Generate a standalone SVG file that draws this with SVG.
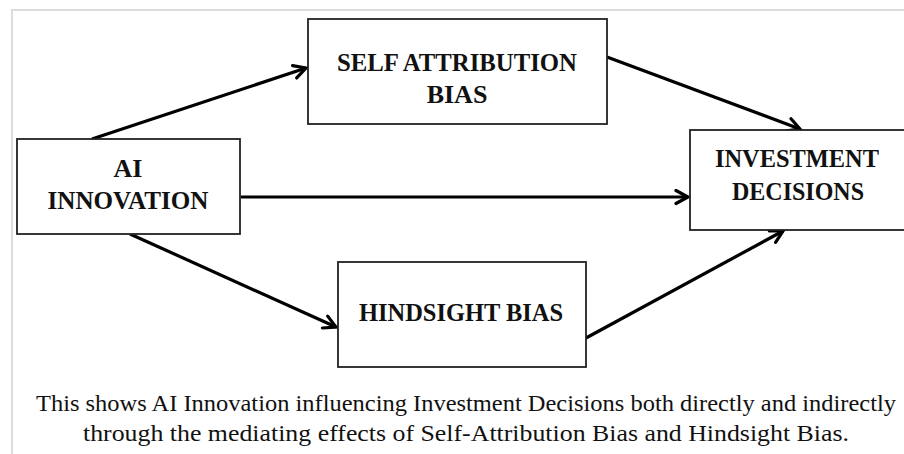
<svg xmlns="http://www.w3.org/2000/svg" width="904" height="454" viewBox="0 0 904 454">
<style>
.box{fill:#fff;stroke:#222;stroke-width:1.8}
text{font-family:'Liberation Serif','Times New Roman',Times,serif;fill:#111;text-anchor:middle}
.lbl{font-weight:bold;font-size:26px}
.cap{font-size:23px}
.arr{stroke:#000;stroke-width:3.2;fill:none;marker-end:url(#ah)}
</style>
<defs>
<marker id="ah" markerUnits="userSpaceOnUse" markerWidth="18" markerHeight="18" refX="14" refY="8" orient="auto">
<path d="M2,1.5 L14,8 L2,14.5" fill="none" stroke="#000" stroke-width="3.2" stroke-linecap="round" stroke-linejoin="miter"/>
</marker>
</defs>
<rect width="904" height="454" fill="#fff"/>
<path d="M12,454 V10 H904" fill="none" stroke="#dcdcdc" stroke-width="2"/>
<g id="connectors">
<line class="arr" x1="92" y1="139" x2="306" y2="68"/>
<line class="arr" x1="607" y1="57" x2="800" y2="129"/>
<line class="arr" x1="241" y1="197" x2="688" y2="197"/>
<line class="arr" x1="130" y1="234" x2="336" y2="327"/>
<line class="arr" x1="586" y1="338" x2="783" y2="231"/>
</g>
<g id="ai-innovation">
<rect class="box" x="17" y="139" width="223" height="95"/>
<text class="lbl" x="128" y="177" font-family="Liberation Serif">AI</text>
<text class="lbl" x="128" y="209" font-family="Liberation Serif" textLength="161" lengthAdjust="spacingAndGlyphs">INNOVATION</text>
</g>
<g id="self-attribution-bias">
<rect class="box" x="308" y="19" width="299" height="105"/>
<text class="lbl" x="457" y="71" textLength="240" lengthAdjust="spacingAndGlyphs">SELF ATTRIBUTION</text>
<text class="lbl" x="457" y="103">BIAS</text>
</g>
<g id="investment-decisions">
<rect class="box" x="690" y="130" width="220" height="100"/>
<text class="lbl" x="797" y="167" textLength="164" lengthAdjust="spacingAndGlyphs">INVESTMENT</text>
<text class="lbl" x="798" y="200" textLength="132" lengthAdjust="spacingAndGlyphs">DECISIONS</text>
</g>
<g id="hindsight-bias">
<rect class="box" x="338" y="262" width="248" height="105"/>
<text class="lbl" x="461" y="321" textLength="204" lengthAdjust="spacingAndGlyphs">HINDSIGHT BIAS</text>
</g>
<g id="caption">
<text class="cap" x="466" y="411" textLength="860" lengthAdjust="spacingAndGlyphs">This shows AI Innovation influencing Investment Decisions both directly and indirectly</text>
<text class="cap" x="466" y="441" textLength="766" lengthAdjust="spacingAndGlyphs">through the mediating effects of Self-Attribution Bias and Hindsight Bias.</text>
</g>
</svg>
